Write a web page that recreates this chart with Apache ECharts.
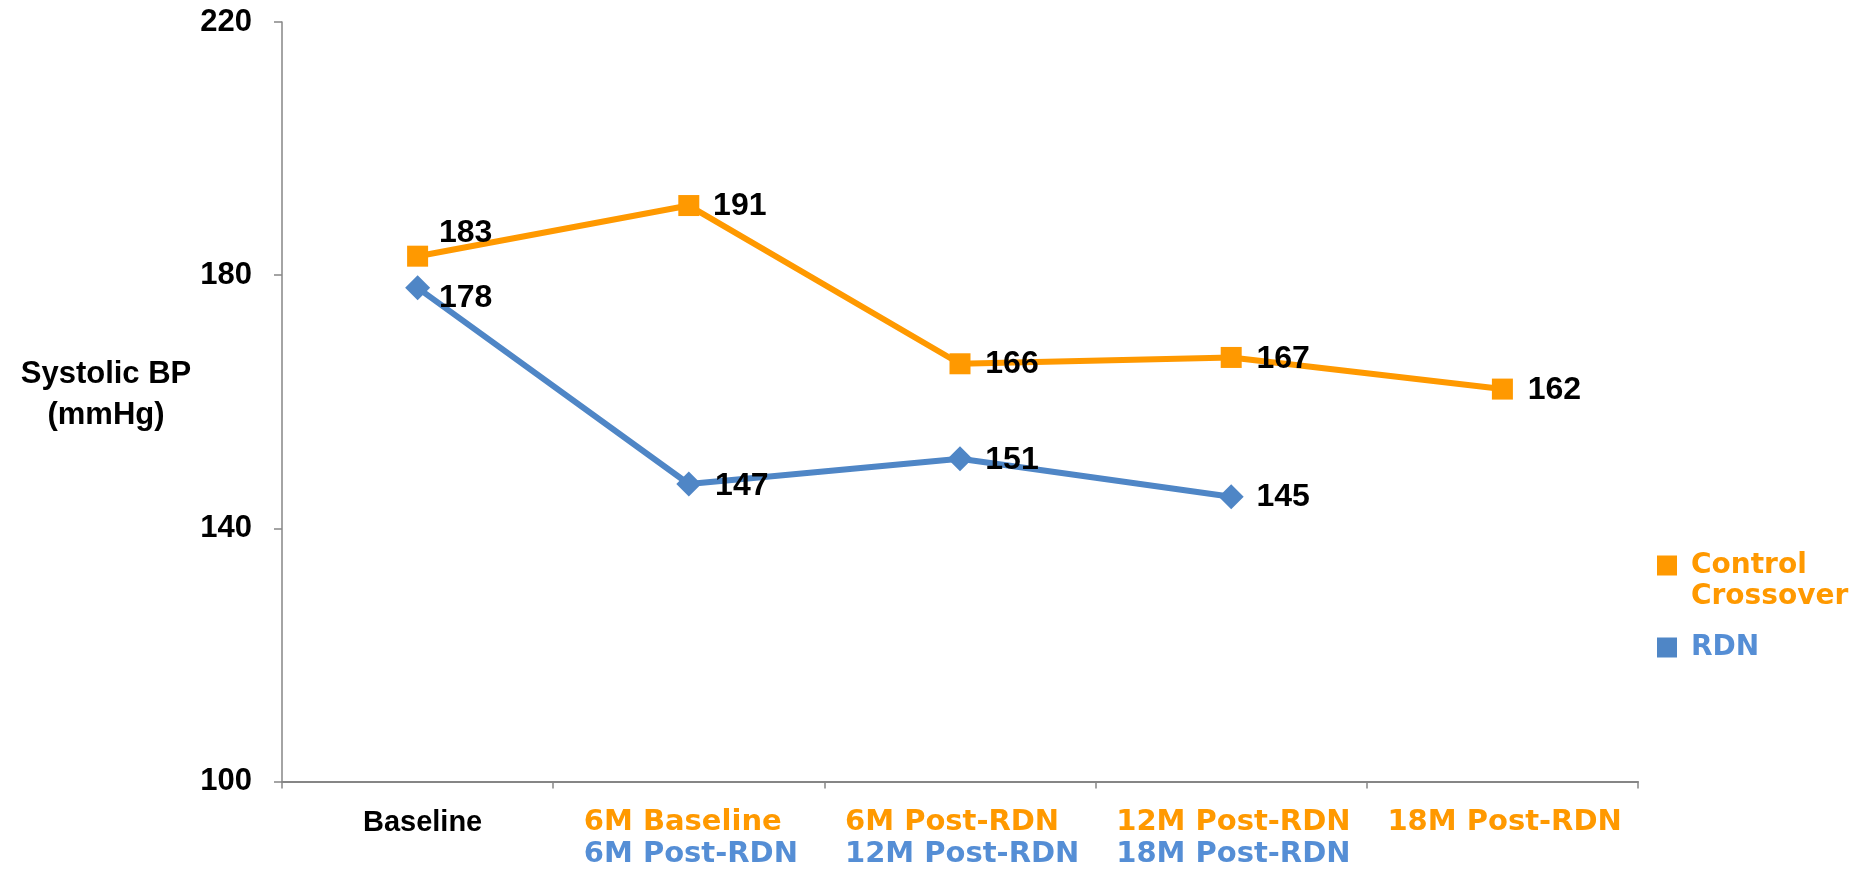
<!DOCTYPE html>
<html>
<head>
<meta charset="utf-8">
<title>Systolic BP over time</title>
<script src="https://cdn.jsdelivr.net/npm/echarts@6/dist/echarts.min.js"></script>
<style>
  html, body { margin: 0; padding: 0; background: #ffffff; }
  #chart { width: 1868px; height: 869px; }
</style>
</head>
<body>
<div id="chart"></div>
<script>
// Time points (control crossover labels on the first line, RDN labels on the second)
const categories = ['Baseline', '6M Baseline', '6M Post-RDN', '12M Post-RDN', '18M Post-RDN'];
const rdnCategoryLabels = ['', '6M Post-RDN', '12M Post-RDN', '18M Post-RDN', ''];

// Mean systolic BP (mmHg)
const controlValues = [183, 191, 166, 167, 162];
const rdnValues = [178, 147, 151, 145, null];

// Patients per time point
const controlN = [51, 37, 35, 33, 31];
const rdnN = [49, 49, 47, 43, null];

// Value axis
const yMin = 100;
const yMax = 220;
const yInterval = 40;

const seriesNames = ['Control Crossover', 'RDN'];

// Label placement relative to each marker, in pixels
const controlValueOffsets = [[48, -23], [51, 1], [52, 0], [52, 2], [52, 1]];
const rdnValueOffsets = [[48, 10], [53, 2], [52, 1], [52, 0]];
const controlNOffsets = [[8, -64], [9, -37], [4, -38], [9, -44], [5, -40]];
const rdnNOffsets = [[8, 43], [9, 37], [4, 39], [9, 46]];

const ORANGE = '#FF9900';
const BLUE_LINE = '#4F86C6';
const BLUE_TEXT = '#558ED5';
const AXIS_GREY = '#868686';
const ARIAL = '"Liberation Sans", Arial, sans-serif';
const WIDE = '"DejaVu Sans", sans-serif';
const CAT_FONT_SIZE = 29;
const CAT_LINE = 32;

// Width of each two-line axis label block, so both lines start at the same x
const measureCtx = document.createElement('canvas').getContext('2d');
measureCtx.font = 'bold ' + CAT_FONT_SIZE + 'px "DejaVu Sans"';
const textWidth = s => (s ? measureCtx.measureText(s).width : 0);

const rich = {
  k: { fontFamily: ARIAL, fontWeight: 'bold', fontSize: 29, color: '#000000', lineHeight: CAT_LINE, padding: [0, 0, 0, 10] }
};
categories.forEach((c, i) => {
  const w = Math.ceil(Math.max(textWidth(c), textWidth(rdnCategoryLabels[i])));
  const base = { fontFamily: WIDE, fontWeight: 'bold', fontSize: CAT_FONT_SIZE, lineHeight: CAT_LINE, width: w, align: 'left', padding: [0, 0, 0, 5] };
  rich['o' + i] = Object.assign({ color: ORANGE }, base);
  rich['b' + i] = Object.assign({ color: BLUE_TEXT }, base);
});

// Legend square sitting beside the first line of a two-line legend entry
const twoLineIcon = 'path://M0 5.5H20V25.5H0ZM0 0h0.01v0.01H0ZM0 62h0.01v-0.01H0Z';

const valueLabel = {
  show: true,
  position: 'inside',
  align: 'center',
  verticalAlign: 'middle',
  fontFamily: ARIAL,
  fontWeight: 'bold',
  fontSize: 32,
  color: '#000000'
};

const nLabel = {
  show: true,
  position: 'inside',
  align: 'center',
  verticalAlign: 'middle',
  fontFamily: ARIAL,
  fontSize: 20,
  color: '#000000'
};

const chart = echarts.init(document.getElementById('chart'), null, { renderer: 'canvas' });

chart.setOption({
  animation: false,
  backgroundColor: '#ffffff',
  grid: { left: 282, right: 230, top: 22, bottom: 86, containLabel: false },
  xAxis: {
    type: 'category',
    data: categories,
    boundaryGap: true,
    axisLine: { show: true, lineStyle: { color: AXIS_GREY, width: 2 } },
    axisTick: { show: true, length: 7, lineStyle: { color: AXIS_GREY, width: 1.5 } },
    axisLabel: {
      interval: 0,
      margin: 25,
      formatter: (value, index) => {
        if (index === 0) return '{k|' + value + '}';
        const second = rdnCategoryLabels[index];
        return '{o' + index + '|' + value + '}' + (second ? '\n{b' + index + '|' + second + '}' : '');
      },
      rich: rich
    },
    splitLine: { show: false }
  },
  yAxis: {
    type: 'value',
    min: yMin,
    max: yMax,
    interval: yInterval,
    axisLine: { show: true, lineStyle: { color: AXIS_GREY, width: 1.5 } },
    axisTick: { show: true, length: 8, lineStyle: { color: AXIS_GREY, width: 1.5 } },
    axisLabel: {
      margin: 30,
      fontFamily: ARIAL,
      fontWeight: 'bold',
      fontSize: 31,
      color: '#000000'
    },
    splitLine: { show: false }
  },
  legend: [
    {
      data: [{ name: seriesNames[0], icon: twoLineIcon, textStyle: { color: ORANGE, padding: [0, 0, 0, 9] } }],
      formatter: name => name.replace(' ', '\n'),
      left: 1657,
      top: 550,
      padding: 0,
      itemWidth: 20,
      itemHeight: 62,
      selectedMode: false,
      textStyle: { fontFamily: WIDE, fontWeight: 'bold', fontSize: 28, lineHeight: 31 }
    },
    {
      data: [{ name: seriesNames[1], icon: 'rect', textStyle: { color: BLUE_TEXT, padding: [0, 0, 0, 9] } }],
      left: 1657,
      top: 632,
      padding: 0,
      itemWidth: 20,
      itemHeight: 20,
      selectedMode: false,
      textStyle: { fontFamily: WIDE, fontWeight: 'bold', fontSize: 28, lineHeight: 31 }
    }
  ],
  graphic: [
    {
      type: 'text',
      x: 106,
      y: 395,
      style: {
        text: 'Systolic BP\n(mmHg)',
        fontFamily: ARIAL,
        fontWeight: 'bold',
        fontSize: 31,
        lineHeight: 41,
        fill: '#000000',
        align: 'center',
        verticalAlign: 'middle'
      }
    }
  ],
  series: [
    {
      name: seriesNames[0],
      type: 'line',
      z: 3,
      data: controlValues.map((v, i) => ({ value: v, label: { offset: controlValueOffsets[i] } })),
      symbol: 'rect',
      symbolSize: 21,
      itemStyle: { color: ORANGE },
      lineStyle: { color: ORANGE, width: 6 },
      label: valueLabel
    },
    {
      name: seriesNames[1],
      type: 'line',
      z: 3,
      data: rdnValues.map((v, i) => ({ value: v, label: { offset: rdnValueOffsets[i] || [0, 0] } })),
      symbol: 'diamond',
      symbolSize: 25,
      itemStyle: { color: BLUE_LINE },
      lineStyle: { color: BLUE_LINE, width: 6 },
      label: valueLabel
    },
    {
      name: 'control-n',
      type: 'line',
      silent: true,
      z: 4,
      data: controlValues.map((v, i) => ({ value: v, label: { offset: controlNOffsets[i] } })),
      symbol: 'none',
      lineStyle: { width: 0, opacity: 0 },
      label: Object.assign({}, nLabel, { formatter: p => 'n = ' + controlN[p.dataIndex] })
    },
    {
      name: 'rdn-n',
      type: 'line',
      silent: true,
      z: 4,
      data: rdnValues.map((v, i) => ({ value: v, label: { offset: rdnNOffsets[i] || [0, 0] } })),
      symbol: 'none',
      lineStyle: { width: 0, opacity: 0 },
      label: Object.assign({}, nLabel, { formatter: p => 'n = ' + rdnN[p.dataIndex] })
    }
  ]
});
</script>
</body>
</html>
